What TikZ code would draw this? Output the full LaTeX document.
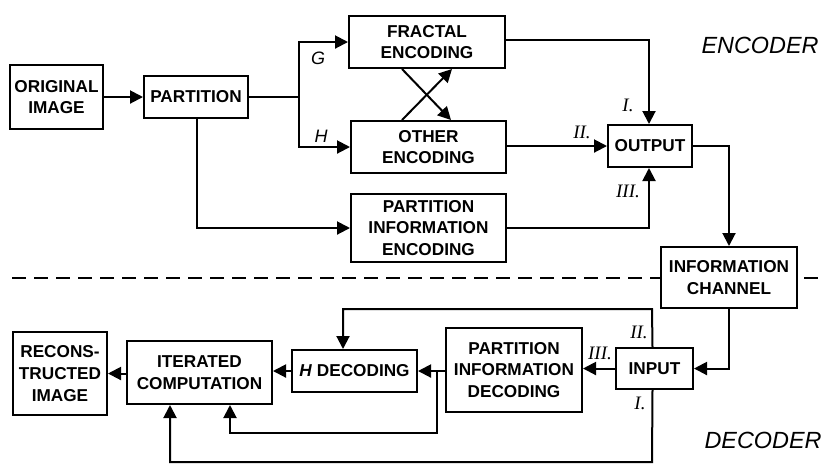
\documentclass[tikz,border=0pt]{standalone}
\usepackage{fontspec}
\setmainfont{Liberation Sans}
\newfontfamily\romfont{Liberation Serif}
\usetikzlibrary{arrows.meta,calc}
\begin{document}
\begin{tikzpicture}[x=0.5pt,y=-0.5pt,
  box/.style={draw,line width=1pt,fill=white,align=center,inner sep=0pt,font=\fontsize{8.6}{10.8}\selectfont\bfseries},
  sz/.style 2 args={minimum width=#1*0.5pt,minimum height=#2*0.5pt},
  conn/.style={line width=1pt},
  arr/.style={conn,-{Triangle[length=6.5pt,width=6.5pt]}},
  lab/.style={font=\fontsize{9}{10}\selectfont\itshape},
  rom/.style={font=\romfont\fontsize{9.5}{10}\selectfont\itshape},
  big/.style={font=\fontsize{11.7}{13}\selectfont\itshape}]
\useasboundingbox (0,0) rectangle (824,463);
% divider
\draw[line width=0.9pt,dash pattern=on 7pt off 4pt] (12,278) -- (824,278);
% encoder boxes
\node[box,sz={93}{64}] (orig) at (56.5,97) {ORIGINAL\\IMAGE};
\node[box,sz={104}{42}] (part) at (196,97) {PARTITION};
\node[box,sz={156}{52}] (frac) at (427,42) {FRACTAL\\ENCODING};
\node[box,sz={155}{52}] (other) at (428.5,147) {OTHER\\ENCODING};
\node[box,sz={155}{68}] (pie) at (428.5,228) {PARTITION\\INFORMATION\\ENCODING};
\node[box,sz={84}{42}] (out) at (650,146) {OUTPUT};
\node[box,sz={136}{61}] (chan) at (729,277.5) {INFORMATION\\CHANNEL};
% decoder boxes
\node[box,sz={77}{41}] (inp) at (654.5,368.5) {INPUT};
\node[box,sz={136}{84}] (pid) at (514,370) {PARTITION\\INFORMATION\\DECODING};
\node[box,sz={125}{42}] (hdec) at (354.5,371) {\textit{H} DECODING};
\node[box,sz={145}{63}] (iter) at (199.5,372.5) {ITERATED\\COMPUTATION};
\node[box,sz={94}{83}] (recon) at (60,373.5) {RECONS-\\TRUCTED\\IMAGE};
% encoder connectors
\draw[arr] (orig.east) -- (part.west);
\coordinate (j) at (299,97);
\draw[conn] (part.east) -- (j);
\draw[arr] (j) |- (frac.west);
\draw[arr] (j) |- (other.west);
\draw[arr] ($(part.south)+(1,0)$) |- (pie.west);
\draw[arr] ($(frac.south west)+(54,0)$) -- ($(other.north west)+(101,0)$);
\draw[arr] ($(other.north west)+(52,0)$) -- ($(frac.south west)+(104,0)$);
\draw[arr] ($(frac.east)+(0,-2)$) -| ($(out.north)+(-1,0)$);
\draw[arr] (other.east |- out.west) -- (out.west);
\draw[arr] (pie.east) -| ($(out.south)+(-1,0)$);
\draw[arr] (out.east) -| (chan.north);
% decoder connectors
\draw[arr] (chan.south) |- (inp.east);
\draw[arr] (inp.west) -- (inp.west -| pid.east);
\draw[arr] (pid.west |- hdec.east) -- (hdec.east);
\coordinate (br) at (437,371);
\draw[arr] (br) -- (437,433) -| (230,0 |- iter.south);
\draw[arr] ($(inp.north)+(-2,0)$) -- (652,309) -| ($(hdec.north)+(-11.5,0)$);
\draw[arr] ($(inp.south)+(-2,0)$) -- (652,462) -| (170,0 |- iter.south);
\draw[arr] (hdec.west) -- (hdec.west -| iter.east);
\draw[arr] (iter.west |- recon.east) -- (recon.east);
% labels
\node[lab] (lg) at (318,58) {G};
\node[lab] (lh) at (321,136) {H};
\node[rom] (l1) at (628,105) {I.};
\node[rom] (l2) at (582,132) {II.};
\node[rom] (l3) at (628,191) {III.};
\node[rom] (d3) at (600,353) {III.};
\node[rom] (d2) at (639,332) {II.};
\node[rom] (d1) at (640,403) {I.};
\node[big] (enc) at (760,45) {ENCODER};
\node[big] (dec) at (763,440) {DECODER};
\end{tikzpicture}
\end{document}
